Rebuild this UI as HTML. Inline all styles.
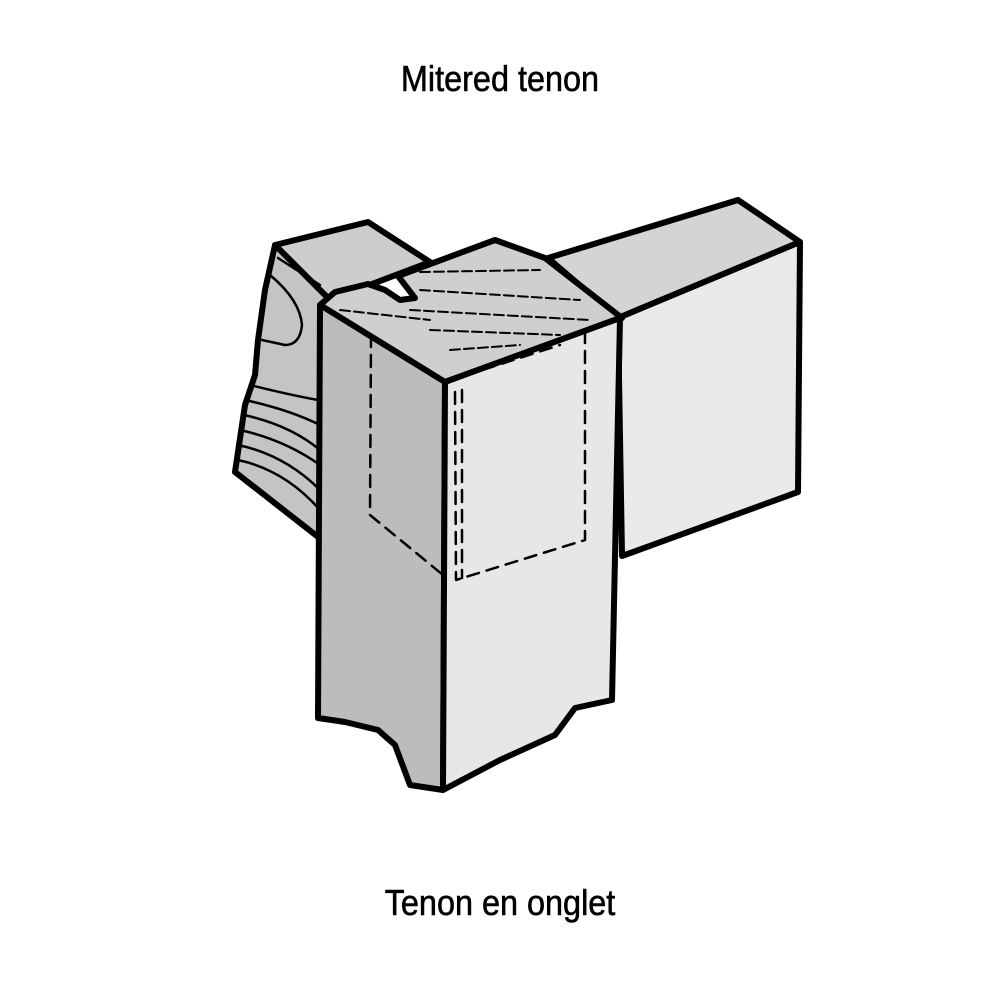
<!DOCTYPE html>
<html><head><style>
html,body{margin:0;padding:0;background:#fff;}
.t{position:absolute;width:1000px;text-align:center;font-family:"Liberation Sans",sans-serif;font-size:36px;color:#000;-webkit-text-stroke:0.6px #000;transform:scaleX(0.9);transform-origin:500px 0;}
</style></head><body>
<div style="position:relative;width:1000px;height:1000px;overflow:hidden">
<div class="t" style="top:58px">Mitered tenon</div>
<div class="t" style="top:882px">Tenon en onglet</div>
<svg width="1000" height="1000" style="position:absolute;left:0;top:0" stroke="#000" stroke-linejoin="round" stroke-linecap="round">
<polygon points="548,258 738,200 800,242 618,318" fill="#d4d4d4" stroke-width="6"/>
<polygon points="618,318 800,242 798,492 622,556" fill="#e9e9e9" stroke-width="6"/>
<polygon points="275,245 368,222 430,262 330,300" fill="#cdcdcd" stroke-width="6"/>
<polygon points="275,245 330,300 322,540 235,472 245,405 255,375 258,340 265,290" fill="#c4c4c4" stroke-width="6"/>
<g fill="none" stroke-width="2.5">
<path d="M278,258 L320,285"/>
<path d="M270,275 Q300,300 302,325 Q300,345 285,345 L262,340"/>
<path d="M250,385 Q290,395 318,400"/>
<path d="M245,400 Q290,410 320,425"/>
<path d="M244,415 Q290,425 320,450"/>
<path d="M240,430 Q285,440 320,465"/>
<path d="M238,445 Q285,455 320,490"/>
<path d="M238,460 Q285,470 320,510"/>
</g>
<polygon points="320,305 335,292 368,284 385,290 400,300 415,298 398,276 495,240 545,258 622,318 445,382" fill="#cfcfcf" stroke-width="6"/>
<g fill="none" stroke-width="2" stroke-dasharray="10 4">
<path d="M420,272 L540,270"/><path d="M420,290 L580,300"/><path d="M410,310 L590,320"/>
<path d="M430,330 L560,335"/><path d="M340,310 L430,320"/><path d="M450,350 L520,345"/>
</g>
<polygon points="320,305 445,382 443,790 410,785 395,745 378,730 345,722 318,718" fill="#bcbcbc" stroke-width="6"/>
<polygon points="445,382 620,318 612,700 575,708 555,735 500,760 443,790" fill="#e7e7e7" stroke-width="6"/>
<g fill="none" stroke-width="2.5" stroke-dasharray="12 8">
<path d="M371,335 L370,515 L443,575"/>
<path d="M455,392 L456,580 L585,540 L585,330"/>
<path d="M462,390 L462,578"/>
<path d="M445,382 L560,345"/>
</g>
</svg>
</div>
</body></html>
